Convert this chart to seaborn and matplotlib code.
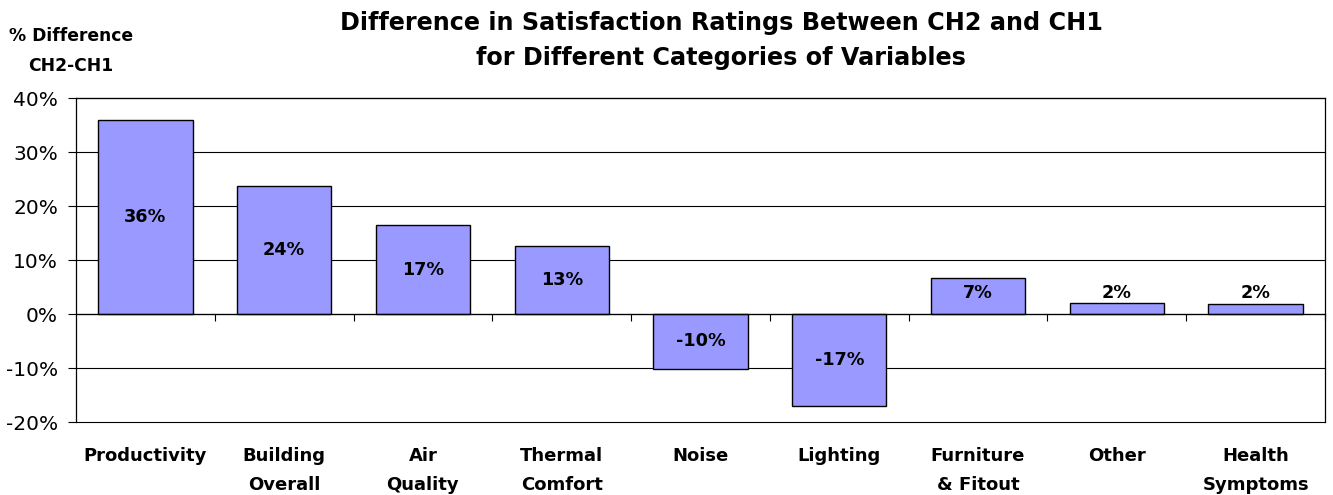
import pandas as pd
import matplotlib.pyplot as plt
import seaborn as sns
from matplotlib.ticker import PercentFormatter, FixedLocator

# Datos
categorias = ["Productivity", "Building\nOverall", "Air\nQuality", "Thermal\nComfort",
              "Noise", "Lighting", "Furniture\n& Fitout", "Other", "Health\nSymptoms"]
diferencias = [36.0, 23.8, 16.5, 12.6, -10.1, -17.0, 6.6, 2.0, 1.8]
etiquetas = ["36%", "24%", "17%", "13%", "-10%", "-17%", "7%", "2%", "2%"]

data = pd.DataFrame({"Categoria": categorias, "Diferencia": diferencias})

sns.set_style("white")
plt.rcParams['font.family'] = ['DejaVu Sans']
plt.rcParams['text.color'] = 'black'
plt.rcParams['xtick.color'] = 'black'
plt.rcParams['ytick.color'] = 'black'
plt.rcParams['axes.unicode_minus'] = False

fig = plt.figure(figsize=(13.33, 4.95), dpi=100)
ax = fig.add_axes([0.057, 0.147, 0.937, 0.655])

sns.barplot(data=data, x="Categoria", y="Diferencia", color="#9999FF",
            saturation=1, width=0.68, edgecolor="black", linewidth=1, ax=ax, zorder=3)

# Etiquetas de valor
for i, (v, t) in enumerate(zip(diferencias, etiquetas)):
    y = v / 2 if abs(v) > 7 else 3.9
    ax.text(i, y, t, ha="center", va="center", fontsize=12.7, fontweight="bold", zorder=4)

ax.set_ylim(-20, 40)
ax.set_xlim(-0.5, len(categorias) - 0.5)
ax.set_yticks(range(-20, 41, 10))
ax.yaxis.set_major_formatter(PercentFormatter(decimals=0))
ax.grid(axis="y", color="black", linewidth=0.8, zorder=0)
for gl in ax.get_ygridlines():
    gl.set_clip_on(False)
ax.tick_params(axis="y", labelsize=14.5, length=6, width=0.8, color="black", direction="out", left=True, pad=7)

# Eje x en cero con marcas entre categorias
ax.spines["bottom"].set_position(("data", 0))
ax.xaxis.set_minor_locator(FixedLocator([i + 0.5 for i in range(len(categorias))]))
ax.tick_params(axis="x", which="major", length=0, pad=96, labelsize=13)
ax.tick_params(axis="x", which="minor", length=5, width=0.8, color="black", direction="out", bottom=True)
for lab in ax.get_xticklabels():
    lab.set_fontweight("bold")
    lab.set_linespacing(1.75)
for s in ax.spines.values():
    s.set_color("black")
    s.set_linewidth(0.9)
    s.set_zorder(5)
ax.set_xlabel("")
ax.set_ylabel("")

fig.text(0.541, 0.977, "Difference in Satisfaction Ratings Between CH2 and CH1\nfor Different Categories of Variables",
         ha="center", va="top", fontsize=17.2, fontweight="bold", linespacing=1.55)
fig.text(0.053, 0.897, "% Difference\nCH2-CH1", ha="center", va="center",
         fontsize=12.3, fontweight="bold", linespacing=1.8)

plt.savefig("out.png", dpi=100)
